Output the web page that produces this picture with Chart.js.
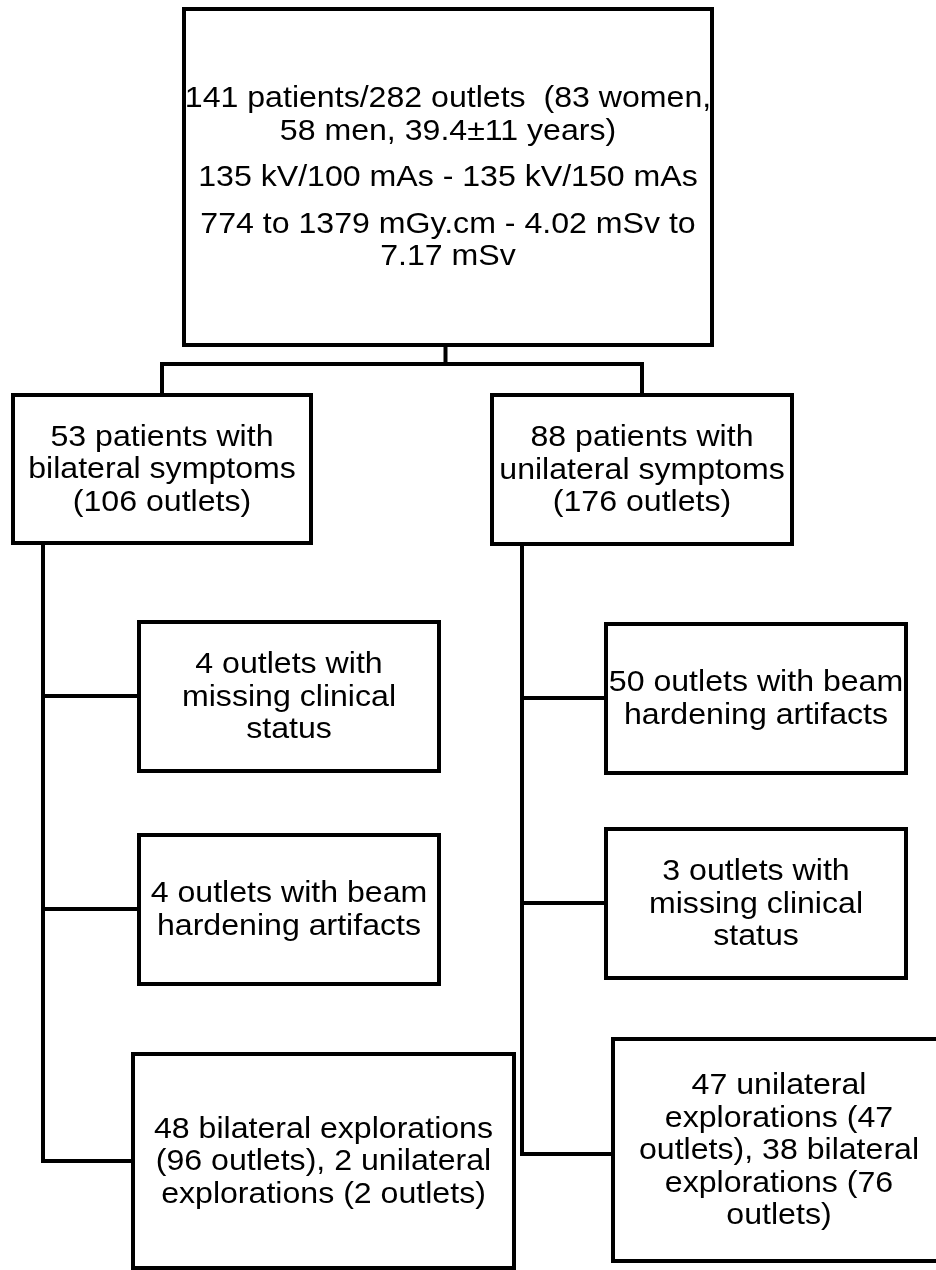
<!DOCTYPE html>
<html>
<head>
<meta charset="utf-8">
<script src="https://cdn.jsdelivr.net/npm/chart.js@4"></script>
<style>
	html, body { margin: 0; padding: 0; background: #fff; }
	#wrap { width: 936px; height: 1270px; position: relative; }
</style>
</head>
<body>
<div id="wrap"><canvas id="flowChart"></canvas></div>
<script>
// Box texts (each box = list of paragraphs, each paragraph = list of lines)
const topBox = [
	["141 patients/282 outlets  (83 women,", "58 men, 39.4±11 years)"],
	["135 kV/100 mAs - 135 kV/150 mAs"],
	["774 to 1379 mGy.cm - 4.02 mSv to", "7.17 mSv"]
];
const bilateralBox = [["53 patients with", "bilateral symptoms", "(106 outlets)"]];
const unilateralBox = [["88 patients with", "unilateral symptoms", "(176 outlets)"]];
const leftMissing = [["4 outlets with", "missing clinical", "status"]];
const leftArtifacts = [["4 outlets with beam", "hardening artifacts"]];
const leftExplorations = [["48 bilateral explorations", "(96 outlets), 2 unilateral", "explorations (2 outlets)"]];
const rightArtifacts = [["50 outlets with beam", "hardening artifacts"]];
const rightMissing = [["3 outlets with", "missing clinical", "status"]];
const rightExplorations = [["47 unilateral", "explorations (47", "outlets), 38 bilateral", "explorations (76", "outlets)"]];

const boxTexts = [topBox, bilateralBox, unilateralBox, leftMissing, leftArtifacts,
	leftExplorations, rightArtifacts, rightMissing, rightExplorations];

// Layout (chart units, same size as the page): box frames x1, y1, x2, y2
const boxFrames = [
	[184, 9, 712, 345],
	[13, 395, 311, 543],
	[492, 395, 792, 544],
	[139, 622, 439, 771],
	[139, 835, 439, 984],
	[133, 1054, 514, 1268],
	[606, 624, 906, 773],
	[606, 829, 906, 978],
	[613, 1039, 945, 1261]
];

// Connector polylines
const connectors = [
	[[445.5, 345], [445.5, 364]],
	[[162, 395], [162, 364], [642, 364], [642, 395]],
	[[43, 543], [43, 1161], [133, 1161]],
	[[43, 696], [139, 696]],
	[[43, 909], [139, 909]],
	[[522, 544], [522, 1154], [613, 1154]],
	[[522, 698], [606, 698]],
	[[522, 903], [606, 903]]
];

const LINE_H = 32.5;
const PARA_GAP = 14;
const FONT = "30px 'Liberation Sans', Arial, sans-serif";

function frameToPoints(f) {
	return [
		{ x: f[0], y: f[1] }, { x: f[2], y: f[1] }, { x: f[2], y: f[3] },
		{ x: f[0], y: f[3] }, { x: f[0], y: f[1] }
	];
}

const datasets = [];
boxFrames.forEach(function (f) {
	datasets.push({
		data: frameToPoints(f),
		showLine: true,
		borderColor: "#000",
		borderWidth: 4,
		borderJoinStyle: "miter",
		borderCapStyle: "square",
		pointRadius: 0,
		clip: false
	});
});
connectors.forEach(function (c) {
	datasets.push({
		data: c.map(function (p) { return { x: p[0], y: p[1] }; }),
		showLine: true,
		borderColor: "#000",
		borderWidth: 4,
		borderJoinStyle: "miter",
		borderCapStyle: "butt",
		pointRadius: 0,
		clip: false
	});
});

// Draws the box labels, centred in each frame
const boxLabels = {
	id: "boxLabels",
	afterDatasetsDraw(chart) {
		const ctx = chart.ctx;
		const xs = chart.scales.x;
		const ys = chart.scales.y;
		ctx.save();
		ctx.font = FONT;
		ctx.fillStyle = "#000";
		ctx.textAlign = "center";
		ctx.textBaseline = "alphabetic";
		boxTexts.forEach(function (paras, i) {
			const f = boxFrames[i];
			const cx = xs.getPixelForValue((f[0] + f[2]) / 2);
			const cy = ys.getPixelForValue((f[1] + f[3]) / 2);
			let nLines = 0;
			paras.forEach(function (p) { nLines += p.length; });
			const total = (nLines - 1) * LINE_H + (paras.length - 1) * PARA_GAP;
			let y = cy + 9 - total / 2;
			paras.forEach(function (p, pi) {
				p.forEach(function (line) {
					ctx.save();
					ctx.translate(cx, y);
					ctx.scale(1.07, 1);
					ctx.fillText(line, 0, 0);
					ctx.restore();
					y += LINE_H;
				});
				y += PARA_GAP;
			});
		});
		ctx.restore();
	}
};

const chartCtx = document.getElementById("flowChart").getContext("2d");
new Chart(chartCtx, {
	type: "scatter",
	data: { datasets: datasets },
	options: {
		responsive: true,
		maintainAspectRatio: false,
		animation: false,
		layout: { padding: 0 },
		plugins: {
			legend: { display: false },
			tooltip: { enabled: false }
		},
		elements: { line: { tension: 0 } },
		scales: {
			x: { type: "linear", min: 0, max: 936, display: false },
			y: { type: "linear", min: 0, max: 1270, reverse: true, display: false }
		}
	},
	plugins: [boxLabels]
});
</script>
</body>
</html>
